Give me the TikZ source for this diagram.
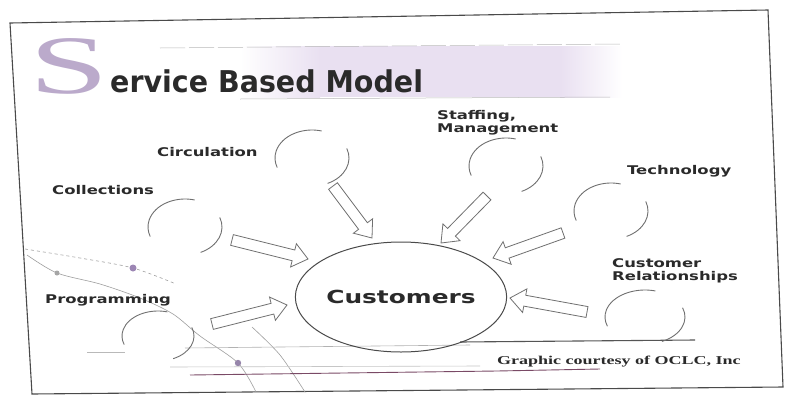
\documentclass[tikz,border=0pt]{standalone}
\usepackage{fontspec}
\usepackage{graphicx}
\setmainfont{Liberation Serif}
\newfontfamily\labfont{DejaVu Sans}
\usetikzlibrary{calc,shapes.geometric}

\definecolor{ink}{HTML}{2A2A2A}
\definecolor{lineg}{HTML}{707070}
\definecolor{lilac}{HTML}{BBAACB}
\definecolor{band}{HTML}{E9E0F1}
\definecolor{purp}{HTML}{7A4A66}
\definecolor{dotp}{HTML}{9C86B4}

\newcommand\wide[1]{\scalebox{1.37}[1]{#1}}

\tikzset{
  lab/.style={font=\labfont\bfseries\fontsize{12}{13}\selectfont, text=ink, inner sep=0pt, anchor=west, align=left},
  bubble/.style={ellipse, minimum width=74pt, minimum height=56pt, inner sep=0pt},
  arcline/.style={draw=lineg, line width=0.9pt},
  barrow/.style={draw=lineg, line width=0.8pt, line join=miter},
  deco/.style={draw=gray!75, line width=0.6pt},
}

% block arrow from #1 (tail) to #2 (tip)
\newcommand\blockarr[2]{%
  \coordinate (ba-p) at ($(#2)!15pt!(#1)$);
  \draw[barrow] ($(#1)!5.5pt!90:(#2)$) -- ($(ba-p)!5.5pt!90:(#2)$) --
    ($(ba-p)!12pt!90:(#2)$) -- (#2) -- ($(ba-p)!12pt!-90:(#2)$) --
    ($(ba-p)!5.5pt!-90:(#2)$) -- ($(#1)!5.5pt!-90:(#2)$) -- cycle;}

% two broken arcs of a bubble: #1 node, #2 rx, #3 ry
\newcommand\bubarcs[3]{%
  \draw[arcline] ([shift={(-75:#2 and #3)}]#1.center) arc[start angle=-75, end angle=-200, x radius=#2, y radius=#3];
  \draw[arcline] ([shift={(65:#2 and #3)}]#1.center) arc[start angle=65, end angle=-20, x radius=#2, y radius=#3];}

\begin{document}
\begin{tikzpicture}[x=1pt,y=-1pt]
\useasboundingbox (0,0) rectangle (790,397);
\fill[white] (0,0) rectangle (790,397);

% slide frame
\draw[ink!85, line width=1.1pt] (10,23) -- (768,10) -- (783,387) -- (32,394) -- cycle;

% title band
\shade[left color=white, right color=band] (240,46) rectangle (320,97);
\fill[band] (320,46) rectangle (560,97);
\shade[left color=band, right color=white] (560,46) rectangle (622,97);
\draw[gray!55, line width=0.5pt, dash pattern=on 25pt off 4pt] (160,48) -- (620,44);
\draw[gray!55, line width=0.5pt] (240,99) -- (610,97);

% title
\node[font=\fontsize{83}{83}\selectfont, text=lilac, inner sep=0pt, anchor=base west] (bigS) at (29,93) {\scalebox{1.72}[1]{S}};
\node[font=\labfont\bfseries\fontsize{30}{30}\selectfont, text=ink, inner sep=0pt, anchor=base west] (title) at (110,92) {\scalebox{0.95}[1]{ervice Based Model}};

% decorative curves
\draw[deco] plot[smooth] coordinates {(27,255) (57,273) (100,284) (140,298) (173,314) (200,336) (238,363) (256,392)};
\draw[deco, dashed] plot[smooth] coordinates {(25,249) (80,258) (133,268) (176,284)};
\draw[deco] plot[smooth] coordinates {(252,327) (280,355) (305,392)};
\fill[dotp] (133,268) circle (3.5pt);
\fill[gray!70] (57,273) circle (2.5pt);
\fill[dotp!80!gray] (238,363) circle (3.2pt);

% horizontal lines
\draw[gray!60, line width=0.6pt] (185,348) -- (470,345);
\draw[ink!80, line width=1.1pt] (460,342) -- (695,340);
\draw[gray!45, line width=0.6pt] (170,367) -- (480,366);
\draw[purp, line width=0.9pt] (190,375) -- (497,371) -- (600,369);
\draw[gray!55, line width=0.6pt] (87,352) -- (125,352);

% bubbles
\node[bubble] (circ) at (312,158) {};
\node[bubble] (staff) at (506,166) {};
\node[bubble] (tech) at (611,211) {};
\node[bubble] (coll) at (185,227) {};
\node[bubble, minimum width=72pt, minimum height=50pt] (prog) at (158,336) {};
\node[bubble, minimum width=80pt, minimum height=54pt] (crel) at (645,317) {};
\bubarcs{circ}{37}{28}
\bubarcs{staff}{37}{28}
\bubarcs{tech}{37}{28}
\bubarcs{coll}{37}{28}
\bubarcs{prog}{36}{25}
\bubarcs{crel}{40}{27}

% customers
\node[draw=ink!85, line width=1pt, ellipse, minimum width=202pt, minimum height=110pt, inner sep=0pt,
      font=\labfont\bfseries\fontsize{18}{18}\selectfont, text=ink] (cust) at (401,297) {\scalebox{1.38}[1]{Customers}};

% labels
\node[lab] (lcirc) at (157,152) {\wide{Circulation}};
\node[lab] (lstaff) at (437,122.5) {\wide{Staffing,}\\\wide{Management}};
\node[lab] (ltech) at (627,171) {\wide{Technology}};
\node[lab] (lcoll) at (52,190) {\wide{Collections}};
\node[lab] (lcrel) at (612,271) {\wide{Customer}\\\wide{Relationships}};
\node[lab] (lprog) at (45,300) {\wide{Programming}};

% block arrows
\coordinate (a1s) at (333,186); \coordinate (a1e) at (372,238);
\coordinate (a2s) at (487,196); \coordinate (a2e) at (441,243);
\coordinate (a3s) at (563,233); \coordinate (a3e) at (493,258);
\coordinate (a4s) at (232,240); \coordinate (a4e) at (308,259);
\coordinate (a5s) at (212,324); \coordinate (a5e) at (287,305);
\coordinate (a6s) at (587,312); \coordinate (a6e) at (510,298);
\blockarr{a1s}{a1e}
\blockarr{a2s}{a2e}
\blockarr{a3s}{a3e}
\blockarr{a4s}{a4e}
\blockarr{a5s}{a5e}
\blockarr{a6s}{a6e}

% credit
\node[font=\bfseries\fontsize{12}{12}\selectfont, text=ink, inner sep=0pt, anchor=west] (credit) at (497,362) {\scalebox{1.5}[1]{Graphic courtesy of OCLC, Inc}};
\end{tikzpicture}
\end{document}
